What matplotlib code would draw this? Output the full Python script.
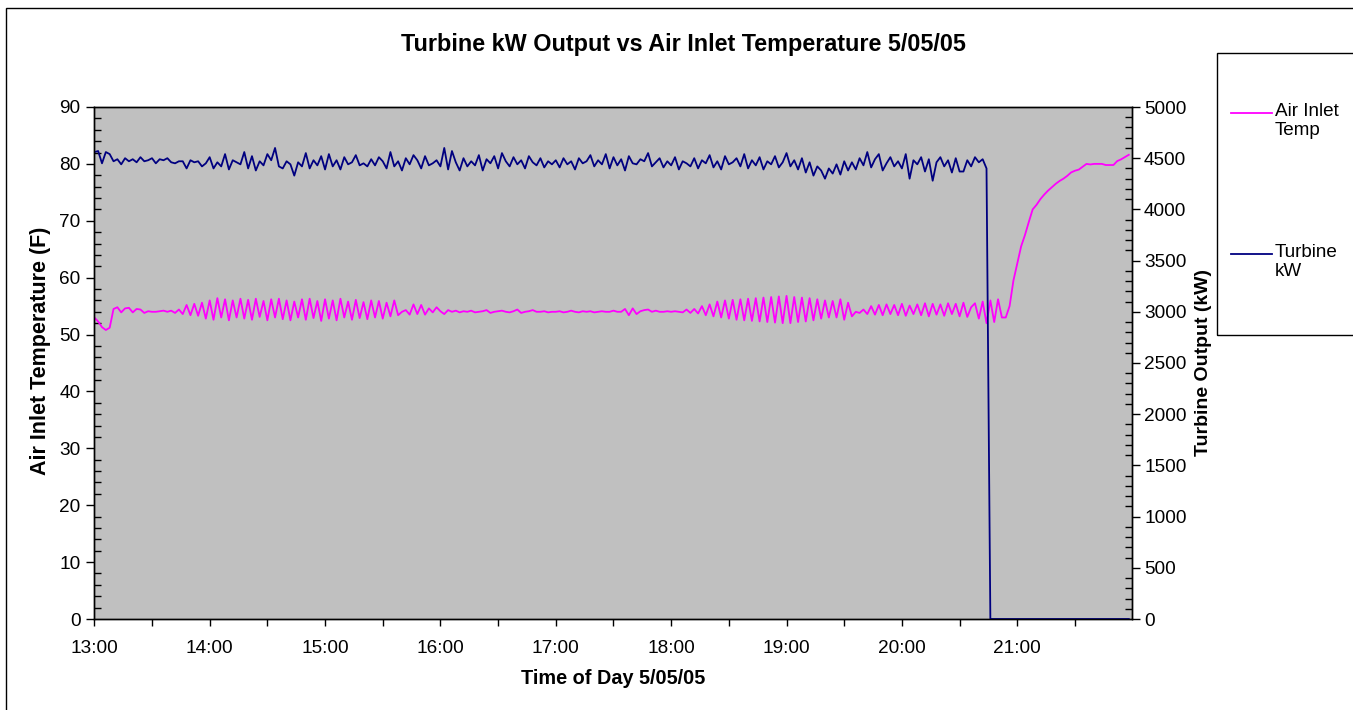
import numpy as np
import matplotlib
matplotlib.use("Agg")
import matplotlib.pyplot as plt
from matplotlib.ticker import MultipleLocator, FixedLocator, FuncFormatter
from matplotlib.lines import Line2D
from matplotlib.patches import Rectangle

plt.rcParams['font.family'] = ['Liberation Sans', 'DejaVu Sans']

# readings every 2 minutes starting 13:00
start_hour = 13
step_min = 2

# Turbine output (kW), hour by hour
kw_13 = [4560, 4570, 4450, 4560, 4540, 4470, 4490, 4440, 4500, 4470, 4490, 4460, 4510, 4470, 4480,
         4500, 4450, 4490, 4480, 4500, 4460, 4450, 4470, 4470, 4400, 4480, 4460, 4470, 4420, 4450]
kw_14 = [4510, 4400, 4460, 4420, 4540, 4390, 4480, 4460, 4440, 4560, 4400, 4520, 4380, 4470, 4430,
         4540, 4480, 4600, 4420, 4400, 4470, 4440, 4330, 4460, 4420, 4550, 4400, 4480, 4430, 4520]
kw_15 = [4390, 4540, 4420, 4480, 4390, 4510, 4440, 4460, 4530, 4430, 4450, 4420, 4490, 4430, 4510,
         4470, 4400, 4560, 4420, 4470, 4380, 4500, 4440, 4530, 4480, 4400, 4520, 4430, 4450, 4480]
kw_16 = [4420, 4600, 4390, 4570, 4460, 4380, 4500, 4420, 4470, 4430, 4530, 4380, 4490, 4450, 4520,
         4400, 4550, 4470, 4420, 4510, 4440, 4480, 4400, 4520, 4460, 4430, 4500, 4410, 4470, 4440]
kw_17 = [4480, 4410, 4500, 4440, 4470, 4390, 4500, 4450, 4470, 4530, 4420, 4480, 4440, 4540, 4400,
         4510, 4430, 4490, 4380, 4520, 4450, 4440, 4490, 4470, 4550, 4420, 4460, 4500, 4410, 4470]
kw_18 = [4430, 4510, 4390, 4470, 4450, 4420, 4500, 4400, 4480, 4450, 4530, 4410, 4470, 4390, 4520,
         4440, 4460, 4500, 4420, 4540, 4400, 4480, 4430, 4510, 4390, 4470, 4440, 4520, 4410, 4460]
kw_19 = [4550, 4420, 4480, 4390, 4500, 4360, 4460, 4330, 4420, 4380, 4300, 4400, 4350, 4440, 4340,
         4470, 4380, 4460, 4390, 4500, 4430, 4560, 4410, 4490, 4540, 4380, 4450, 4510, 4420, 4470]
kw_20 = [4400, 4540, 4300, 4480, 4440, 4510, 4370, 4490, 4280, 4460, 4510, 4420, 4480, 4360, 4500,
         4370, 4370, 4480, 4420, 4510, 4460, 4490, 4400, 0, 0, 0, 0, 0, 0, 0]
kw_21 = [0, 0, 0, 0, 0, 0, 0, 0, 0, 0, 0, 0, 0, 0, 0,
         0, 0, 0, 0, 0, 0, 0, 0, 0, 0, 0, 0, 0, 0, 0]

# Air inlet temperature (F), hour by hour
temp_13 = [53.0, 52.3, 51.3, 50.8, 51.2, 54.5, 54.8, 53.9, 54.6, 54.7, 53.9, 54.5, 54.4, 53.8, 54.1,
           54.0, 54.0, 54.1, 54.2, 54.0, 54.2, 53.8, 54.4, 53.6, 55.2, 53.4, 55.4, 53.3, 55.6, 52.8]
temp_14 = [56.0, 52.6, 56.4, 53.0, 56.2, 52.5, 56.0, 53.0, 56.3, 52.8, 56.1, 52.6, 56.3, 53.1, 55.9,
           52.5, 56.2, 53.0, 56.3, 52.7, 56.0, 52.5, 55.8, 53.0, 56.2, 52.6, 56.3, 52.9, 55.9, 52.4]
temp_15 = [56.2, 52.8, 56.0, 52.5, 56.3, 53.0, 55.8, 52.6, 56.1, 52.9, 55.7, 52.7, 56.0, 53.0, 55.9,
           52.8, 55.6, 53.2, 56.0, 53.4, 54.0, 54.3, 53.5, 55.3, 53.6, 55.2, 53.5, 54.6, 53.9, 54.8]
temp_16 = [54.1, 53.6, 54.3, 54.0, 54.2, 53.9, 54.1, 54.0, 54.2, 53.9, 54.0, 54.1, 54.3, 53.8, 54.0,
           54.1, 54.2, 54.0, 53.9, 54.1, 54.4, 53.8, 54.0, 54.1, 54.3, 54.0, 54.0, 54.1, 53.9, 54.0]
temp_17 = [54.0, 54.1, 53.9, 54.0, 54.2, 54.0, 53.9, 54.1, 54.0, 54.1, 53.9, 54.0, 54.1, 54.0, 54.0,
           54.2, 54.0, 54.0, 54.5, 53.4, 54.6, 53.6, 54.1, 54.3, 54.4, 54.0, 54.2, 54.0, 54.0, 54.1]
temp_18 = [54.0, 54.1, 54.0, 53.9, 54.4, 53.8, 54.5, 53.7, 55.0, 53.4, 55.3, 53.2, 55.8, 53.0, 56.0,
           52.8, 56.1, 52.6, 56.2, 52.5, 56.3, 52.4, 56.4, 52.3, 56.5, 52.2, 56.6, 52.1, 56.7, 52.0]
temp_19 = [56.8, 52.0, 56.6, 52.2, 56.5, 52.3, 56.4, 52.5, 56.2, 52.8, 56.0, 53.0, 55.9, 53.0, 56.2,
           52.6, 55.6, 53.2, 54.0, 53.8, 54.4, 53.6, 55.0, 53.5, 55.2, 53.4, 55.3, 53.6, 55.2, 53.4]
temp_20 = [55.4, 53.3, 55.1, 53.6, 55.3, 53.4, 55.5, 53.2, 55.4, 53.5, 55.3, 53.3, 55.5, 53.6, 55.4,
           53.2, 55.6, 53.1, 54.8, 55.5, 52.8, 55.8, 52.0, 56.0, 52.2, 56.2, 53.0, 53.0, 55.0, 59.5]
temp_21 = [62.5, 65.5, 67.5, 69.8, 72.0, 72.8, 73.8, 74.6, 75.3, 75.9, 76.5, 77.0, 77.4, 77.9, 78.5,
           78.8, 79.0, 79.5, 80.0, 79.9, 80.0, 80.0, 80.0, 79.8, 79.8, 79.8, 80.5, 80.8, 81.2, 81.6]

turbine_kw = kw_13 + kw_14 + kw_15 + kw_16 + kw_17 + kw_18 + kw_19 + kw_20 + kw_21
air_temp = temp_13 + temp_14 + temp_15 + temp_16 + temp_17 + temp_18 + temp_19 + temp_20 + temp_21
hours = start_hour + np.arange(len(air_temp)) * step_min / 60.0

W, H = 1353, 710
fig = plt.figure(figsize=(W / 100, H / 100), dpi=100)
left, right, top, bottom = 94.3, 1131.5, 107, 619
ax = fig.add_axes([left / W, 1 - bottom / H, (right - left) / W, (bottom - top) / H])
ax.set_facecolor('#C0C0C0')
ax2 = ax.twinx()

ax.plot(hours, air_temp, color='#FF00FF', lw=1.3)
ax2.plot(hours, turbine_kw, color='#000080', lw=1.3)

ax.set_xlim(13, 21.99)
ax.set_ylim(0, 90)
ax2.set_ylim(0, 5000)

fs = 13.7
ax.xaxis.set_major_locator(FixedLocator(np.arange(13, 22, 1)))
ax.xaxis.set_minor_locator(FixedLocator(np.arange(13.5, 22, 1)))
ax.xaxis.set_major_formatter(FuncFormatter(lambda v, p: f"{int(round(v))}:00"))
ax.tick_params(axis='x', which='both', direction='out', length=5, width=1, pad=10, labelsize=fs)

ax.yaxis.set_major_locator(MultipleLocator(10))
ax.yaxis.set_minor_locator(MultipleLocator(2))
ax.tick_params(axis='y', which='major', direction='out', length=6, width=1, pad=4, labelsize=fs)
ax.tick_params(axis='y', which='minor', direction='in', length=5, width=1)

ax2.yaxis.set_major_locator(MultipleLocator(500))
ax2.yaxis.set_minor_locator(MultipleLocator(100))
ax2.tick_params(axis='y', which='major', direction='out', length=6, width=1, pad=3, labelsize=fs)
ax2.tick_params(axis='y', which='minor', direction='in', length=5, width=1)

for a in (ax, ax2):
    for s in a.spines.values():
        s.set_linewidth(1)
        s.set_color('black')

ax.set_xlabel("Time of Day 5/05/05", fontsize=14.3, fontweight='bold')
ax.xaxis.set_label_coords(0.5, (bottom - 679) / (bottom - top))
ax.xaxis.label.set_va('center')
ax.set_ylabel("Air Inlet Temperature (F)", fontsize=15.5, fontweight='bold')
ax.yaxis.set_label_coords((40 - left) / (right - left), (bottom - 351) / (bottom - top))
ax.yaxis.label.set_va('center')
ax2.set_ylabel("Turbine Output (kW)", fontsize=14, fontweight='bold', rotation=90)
ax2.yaxis.set_label_coords((1203 - left) / (right - left), (bottom - 363) / (bottom - top))
ax2.yaxis.label.set_va('center')

fig.text(683 / W, 1 - 45 / H, "Turbine kW Output vs Air Inlet Temperature 5/05/05",
         ha='center', va='center', fontsize=16.8, fontweight='bold')

# chart frame and legend box
fig.add_artist(Rectangle((6.3 / W, -0.05), 1.2, 1.05 - 8.3 / H, transform=fig.transFigure,
                         fill=False, edgecolor='black', lw=1))
fig.add_artist(Rectangle((1217 / W, 1 - 335 / H), 0.3, (335 - 53.3) / H, transform=fig.transFigure,
                         fill=False, edgecolor='black', lw=1))
legend_items = [("Air Inlet\nTemp", '#FF00FF', 112.7), ("Turbine\nkW", '#000080', 254)]
for label, color, ypix in legend_items:
    fig.add_artist(Line2D([1231 / W, 1272 / W], [1 - ypix / H, 1 - ypix / H],
                          transform=fig.transFigure, color=color, lw=1.3))
    fig.text(1275 / W, 1 - (ypix - 10) / H, label, ha='left', va='top', fontsize=13.6,
             linespacing=1.15)

fig.savefig("out.png", dpi=100)
